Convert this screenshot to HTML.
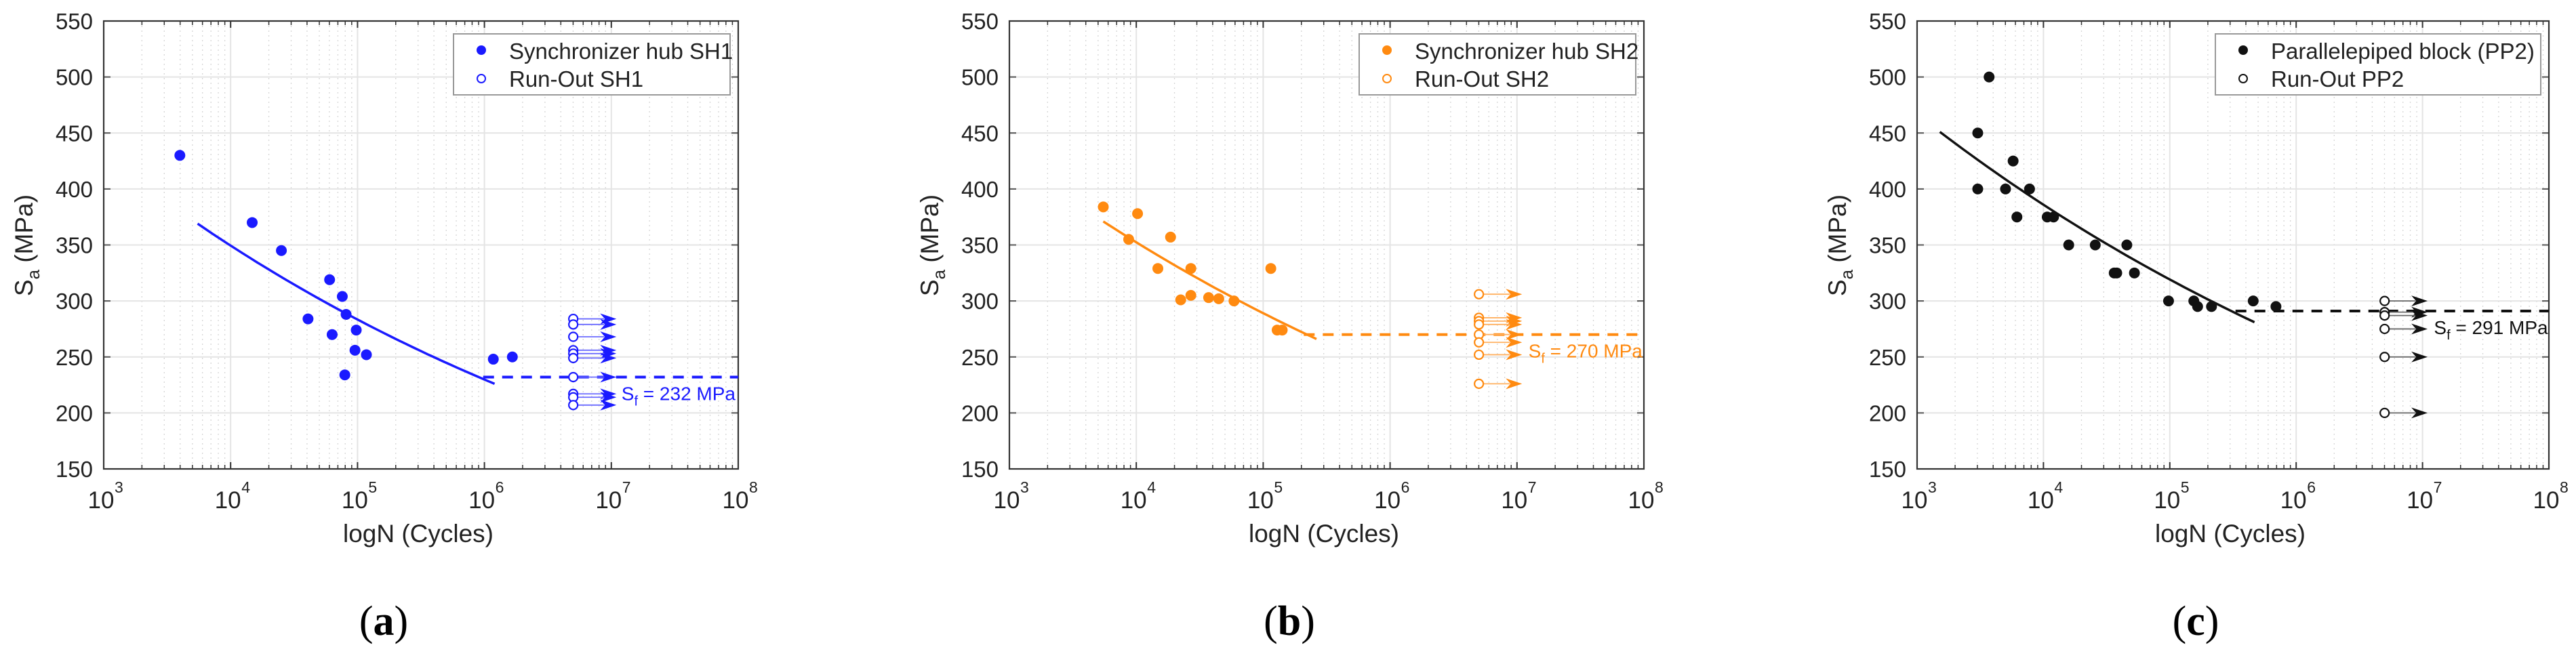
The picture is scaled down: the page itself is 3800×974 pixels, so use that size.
<!DOCTYPE html>
<html>
<head>
<meta charset="utf-8">
<style>
html,body{margin:0;padding:0;background:#fff;}
svg{display:block;}
text{font-family:"Liberation Sans",Arial,sans-serif;}
</style>
</head>
<body>
<svg id="chart" width="3800" height="974" viewBox="0 0 3800 974" xmlns="http://www.w3.org/2000/svg"></svg>
<script>
// ---------- Panel (a) data: Synchronizer hub SH1 ----------
const aFailLogN = [3.60, 4.17, 4.40, 4.61, 4.78, 4.80, 4.88, 4.91, 4.90, 4.99, 4.98, 5.07, 6.07, 6.22];
const aFailS    = [430, 370, 345, 284, 319, 270, 304, 288, 234, 274, 256, 252, 248, 250];
const aRunS     = [284, 279, 268, 256, 253, 249, 232, 217, 214, 207];
const aCurveLogN = [3.74, 6.08];
const aCurveS    = [369, 226];
const aSf = [232];

// ---------- Panel (b) data: Synchronizer hub SH2 ----------
const bFailLogN = [3.74, 3.94, 4.01, 4.17, 4.27, 4.35, 4.43, 4.43, 4.57, 4.65, 4.77, 5.06, 5.11, 5.15];
const bFailS    = [384, 355, 378, 329, 357, 301, 329, 305, 303, 302, 300, 329, 274, 274];
const bRunS     = [306, 285, 282, 279, 270, 263, 252, 226];
const bCurveLogN = [3.74, 5.42];
const bCurveS    = [371, 266];
const bSf = [270];

// ---------- Panel (c) data: Parallelepiped block PP2 ----------
const cFailLogN = [3.48, 3.48, 3.57, 3.70, 3.76, 3.79, 3.89, 4.03, 4.08, 4.20, 4.41, 4.56, 4.58, 4.66, 4.72, 4.99, 5.19, 5.22, 5.33, 5.66, 5.84];
const cFailS    = [450, 400, 500, 400, 425, 375, 400, 375, 375, 350, 350, 325, 325, 350, 325, 300, 300, 295, 295, 300, 295];
const cRunS     = [300, 290, 287, 275, 250, 200];
const cCurveLogN = [3.18, 5.67];
const cCurveS    = [451, 281];
const cSf = [291];

const runLogN = [6.70];
const arrowEndLogN = [7.04];
const xTickExp = [3, 4, 5, 6, 7, 8];
const yTicks = [150, 200, 250, 300, 350, 400, 450, 500, 550];

const NS = "http://www.w3.org/2000/svg";
const svg = document.getElementById("chart");
function mk(tag, attrs, parent) {
  const e = document.createElementNS(NS, tag);
  for (const k in attrs) e.setAttribute(k, attrs[k]);
  (parent || svg).appendChild(e);
  return e;
}

function drawPanel(p) {
  const g = mk("g", {});
  
  
  const L = p.left, R = p.right, T = 31, B = 692;
  const xs = v => L + (v - 3) / 5 * (R - L);
  const ys = v => B - (v - 150) / 400 * (B - T);

  for (let d = 3; d < 8; d++) {
    for (let k = 2; k <= 9; k++) {
      const x = xs(d + Math.log10(k));
      const ln = mk("line", {x1:x, x2:x, y1:T, y2:B, stroke:"#d6d6d6", "stroke-width":1.3, "stroke-dasharray":"2,5"}, g);
      
      
      const t1 = mk("line", {x1:x, x2:x, y1:B, y2:B-6, stroke:"#333", "stroke-width":1.5}, g);
      
      
      const t2 = mk("line", {x1:x, x2:x, y1:T, y2:T+6, stroke:"#333", "stroke-width":1.5}, g);
      
      
    }
  }
  xTickExp.forEach(e => {
    const x = xs(e);
    const ln = mk("line", {x1:x, x2:x, y1:T, y2:B, stroke:"#e4e4e4", "stroke-width":2}, g);
    
    
    mk("line", {x1:x, x2:x, y1:B, y2:B-10, stroke:"#333", "stroke-width":2}, g);
    mk("line", {x1:x, x2:x, y1:T, y2:T+10, stroke:"#333", "stroke-width":2}, g);
    const tx = mk("text", {x:x-4, y:750, "font-size":35, "text-anchor":"middle", fill:"#222"}, g);
    
    
    tx.textContent = "10";
    const ex = mk("text", {x:x+16, y:727, "font-size":23, fill:"#222"}, g);
    
    
    ex.textContent = String(e);
  });
  yTicks.forEach(v => {
    const y = ys(v);
    const ln = mk("line", {x1:L, x2:R, y1:y, y2:y, stroke:"#e4e4e4", "stroke-width":2}, g);
    
    
    mk("line", {x1:L, x2:L+10, y1:y, y2:y, stroke:"#555", "stroke-width":2}, g);
    mk("line", {x1:R, x2:R-10, y1:y, y2:y, stroke:"#555", "stroke-width":2}, g);
    const tx = mk("text", {x:L-16, y:y+12, "font-size":33, "text-anchor":"end", fill:"#222"}, g);
    
    
    tx.textContent = String(v);
  });
  const box = mk("rect", {x:L, y:T, width:R-L, height:B-T, fill:"none", stroke:"#333", "stroke-width":2.2}, g);
  
  

  const xl = mk("text", {x:(L+R)/2 - 4, y:800, "font-size":37, "text-anchor":"middle", fill:"#222"}, g);
  
  
  xl.textContent = "logN (Cycles)";
  const yl = mk("text", {transform:"translate(" + (L-105) + ",362) rotate(-90)", "font-size":37, "text-anchor":"middle", fill:"#222"}, g);
  
  
  yl.innerHTML = 'S<tspan font-size="26" dy="10">a</tspan><tspan dy="-10"> (MPa)</tspan>';

  const b = (Math.log10(p.cS[1]) - Math.log10(p.cS[0])) / (p.cN[1] - p.cN[0]);
  let d = "";
  for (let i = 0; i <= 40; i++) {
    const n = p.cN[0] + (p.cN[1] - p.cN[0]) * i / 40;
    const s = Math.pow(10, Math.log10(p.cS[0]) + b * (n - p.cN[0]));
    d += (i ? "L" : "M") + xs(n).toFixed(1) + "," + ys(s).toFixed(1);
  }
  const cv = mk("path", {d:d, fill:"none", stroke:p.color, "stroke-width":3.5}, g);
  
  

  const sfy = ys(p.sf[0]);
  const dl = mk("line", {x1:xs(p.dashStart), x2:R, y1:sfy, y2:sfy, stroke:p.color, "stroke-width":4, "stroke-dasharray":"16,12"}, g);
  
  

  p.rS.forEach(s => {
    const x0 = xs(runLogN[0]), x1 = xs(arrowEndLogN[0]), y = ys(s);
    const ar = mk("line", {x1:x0+6, x2:x1-18, y1:y, y2:y, stroke:p.arrowColor, "stroke-width":1.8}, g);
    
    
    const hd = mk("path", {d:"M"+(x1-24)+","+(y-8)+"L"+x1+","+y+"L"+(x1-24)+","+(y+8)+"L"+(x1-17)+","+y+"Z", fill:p.color}, g);
    
    
    const c = mk("circle", {cx:x0, cy:y, r:6.5, fill:"#fff", stroke:p.color, "stroke-width":2.2}, g);
    
    
  });

  p.fN.forEach((n, i) => {
    const c = mk("circle", {cx:xs(n), cy:ys(p.fS[i]), r:8, fill:p.color}, g);
    
    
  });

  const sl = mk("text", {x:xs(p.labelLogN), y:sfy + p.labelDy, "font-size":28, fill:p.color}, g);
  
  
  sl.innerHTML = 'S<tspan font-size="20" dy="8">f</tspan><tspan dy="-8"> = ' + p.sf[0] + ' MPa</tspan>';

  const lx = R - 12 - p.legW, ly = 50;
  const lg = mk("g", {}, g);
  
  
  mk("rect", {x:lx, y:ly, width:p.legW, height:90, fill:"#fff", stroke:"#999", "stroke-width":2}, lg);
  const m1 = mk("circle", {cx:lx+41, cy:ly+24, r:7, fill:p.color}, lg);
  
  
  const t1 = mk("text", {x:lx+82, y:ly+37, "font-size":33, fill:"#222"}, lg);
  
  
  t1.textContent = p.leg1;
  const m2 = mk("circle", {cx:lx+41, cy:ly+66, r:6, fill:"#fff", stroke:p.color, "stroke-width":2}, lg);
  
  
  const t2 = mk("text", {x:lx+82, y:ly+78, "font-size":33, fill:"#222"}, lg);
  
  
  t2.textContent = p.leg2;

  const cap = mk("text", {x:(L+R)/2 - 55, y:937, "font-size":62, "text-anchor":"middle", fill:"#000", style:"font-family:'Liberation Serif','Times New Roman',serif"}, g);
  
  
  cap.innerHTML = '(<tspan font-weight="bold">' + p.cap + '</tspan>)';
}

drawPanel({key:"sh1", left:153, right:1089, color:"#1a1aff", arrowColor:"#6b6bff",
  fN:aFailLogN, fS:aFailS, rS:aRunS, cN:aCurveLogN, cS:aCurveS, sf:aSf, dashStart:5.99,
  labelLogN:7.08, labelDy:34, legW:408, leg1:"Synchronizer hub SH1", leg2:"Run-Out SH1", cap:"a"});
drawPanel({key:"sh2", left:1489, right:2425, color:"#ff8a10", arrowColor:"#ffb060",
  fN:bFailLogN, fS:bFailS, rS:bRunS, cN:bCurveLogN, cS:bCurveS, sf:bSf, dashStart:5.32,
  labelLogN:7.09, labelDy:34, legW:408, leg1:"Synchronizer hub SH2", leg2:"Run-Out SH2", cap:"b"});
drawPanel({key:"pp2", left:2828, right:3760, color:"#111", arrowColor:"#666",
  fN:cFailLogN, fS:cFailS, rS:cRunS, cN:cCurveLogN, cS:cCurveS, sf:cSf, dashStart:5.52,
  labelLogN:7.09, labelDy:34, legW:480, leg1:"Parallelepiped block (PP2)", leg2:"Run-Out PP2", cap:"c"});
</script>
</body>
</html>
